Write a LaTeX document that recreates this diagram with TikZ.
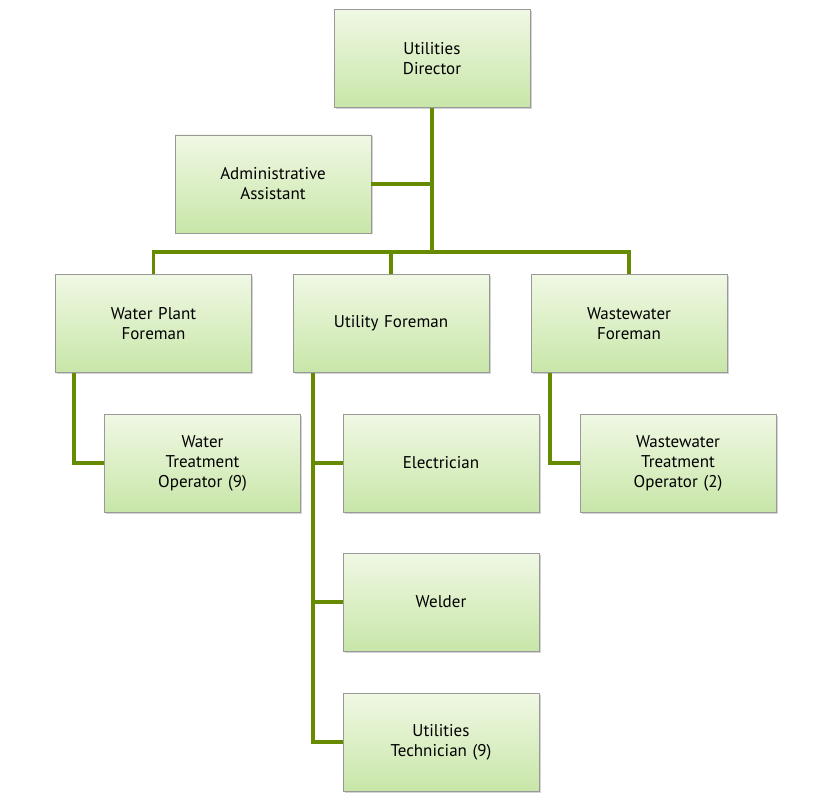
\documentclass[tikz,border=0pt]{standalone}
\usepackage{fontspec}
\setmainfont{PT Sans}
\usepackage{tikz}
\usetikzlibrary{positioning,shadows}
\definecolor{BoxTop}{HTML}{F0F8E4}
\definecolor{BoxBottom}{HTML}{C8E6A8}
\definecolor{LinkGreen}{HTML}{668A00}

\begin{document}
\begin{tikzpicture}[x=1pt,y=-1pt,
                      box/.style={draw=gray!80,rectangle,minimum width=196pt,minimum height=98pt,
                                  text width=180pt,align=center,font={\fontsize{17}{20}\selectfont},
                                  top color=BoxTop,bottom color=BoxBottom,
                                  drop shadow={shadow xshift=1.5pt,shadow yshift=-1.5pt,opacity=.35}},
                      link/.style={draw=LinkGreen,line width=3.5pt}]
    \useasboundingbox (0,0) rectangle (831,805);
    \node[box] (director) at (432,58.5) {Utilities\\Director};
    \node[box] (assistant) at (273,184) {Administrative\\Assistant};
    \node[box] (water-foreman) at (153.5,323.5) {Water Plant\\Foreman};
    \node[box] (utility-foreman) at (391,323.5) {Utility Foreman};
    \node[box] (waste-foreman) at (629,323.5) {Wastewater\\Foreman};
    \node[box] (water-operator) at (202.5,463) {Water\\Treatment\\Operator (9)};
    \node[box] (electrician) at (441,463) {Electrician};
    \node[box] (waste-operator) at (678,463) {Wastewater\\Treatment\\Operator (2)};
    \node[box] (welder) at (441,602) {Welder};
    \node[box] (technician) at (441,742) {Utilities\\Technician (9)};
    \coordinate (n0) at (432,252);
    \coordinate (n1) at (74,463);
    \coordinate (n2) at (313,742);
    \coordinate (n3) at (550,463);
    \draw[link] (director) -- (n0);
    \draw[link] (assistant) -- (assistant -| n0);
    \draw[link] (water-foreman.north) |- (n0) -| (waste-foreman.north);
    \draw[link] (utility-foreman.north) -- (utility-foreman.north |- n0);
    \draw[link] (water-foreman.south -| n1) -- (n1) -- (water-operator);
    \draw[link] (utility-foreman.south -| n2) -- (n2) -- (technician);
    \draw[link] (electrician -| n2) -- (electrician);
    \draw[link] (welder -| n2) -- (welder);
    \draw[link] (waste-foreman.south -| n3) -- (n3) -- (waste-operator);
  \end{tikzpicture}
\end{document}
